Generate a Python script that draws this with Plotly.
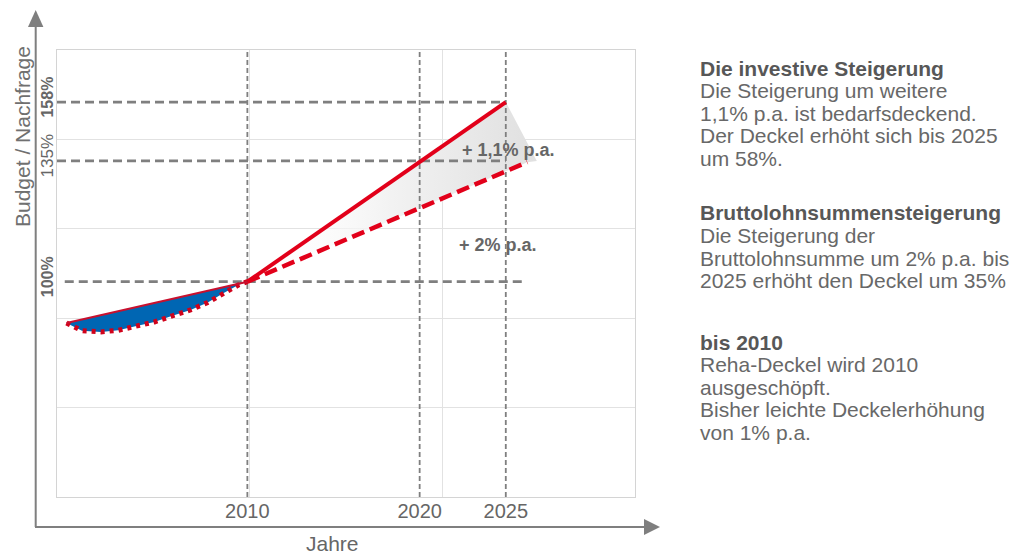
import plotly.graph_objects as go

# ---------------- data ----------------
# pre-2010 period: straight cap line (1% p.a.) vs. demand curve (dotted)
cap_years = [1999.5, 2010]
cap_values = [86.7, 100]
demand_years = [1999.5, 2000.4, 2001.5, 2002.5, 2003.5, 2004.6, 2005.6, 2006.7, 2007.7, 2008.6, 2009.5, 2010]
demand_values = [86.7, 84.2, 83.8, 84.3, 85.6, 87.0, 88.9, 90.9, 93.3, 96.3, 99.0, 100]

# projections from 2010
invest_years = [2010, 2025]
invest_values = [100, 158]
wage_years = [2010, 2026.25]
wage_values = [100, 138.6]
band_corner = (2026.8, 139.0)

# reference levels / marked years
level_values = [100, 139, 158]
level_labels = ["<b>100%</b>", "135%", "<b>158%</b>"]
level_label_sizes = [16, 17, 16]
level_x_start = [1999.4, 1998.95, 1998.95]
level_x_end = [2026.1, 2025, 2025]
marked_years = [2010, 2020, 2025]
marked_labels = ["2010", "2020", "2025"]

# annotations in the plot
ann_texts = ["<b>+ 1,1% p.a.</b>", "<b>+ 2% p.a.</b>"]
ann_x = [2025.15, 2024.55]
ann_y = [142.6, 111.8]

# side text
side_lines = [
    ("<b>Die investive Steigerung</b>", 68),
    ("Die Steigerung um weitere", 90.5),
    ("1,1% p.a. ist bedarfsdeckend.", 113),
    ("Der Deckel erhöht sich bis 2025", 135.5),
    ("um 58%.", 158),
    ("<b>Bruttolohnsummensteigerung</b>", 213),
    ("Die Steigerung der", 235.5),
    ("Bruttolohnsumme um 2% p.a. bis", 258),
    ("2025 erhöht den Deckel um 35%", 280.5),
    ("<b>bis 2010</b>", 342),
    ("Reha-Deckel wird 2010", 364.5),
    ("ausgeschöpft.", 387),
    ("Bisher leichte Deckelerhöhung", 409.5),
    ("von 1% p.a.", 432),
]

X_RANGE = [1998.95, 2032.5]
Y_RANGE = [30.5, 174.8]

# ---------------- layout helpers (reference pixel -> paper) ----------------
OFF = 8                      # page body margin
FW, FH = 1020 - OFF, 554 - OFF
L, R, T, B = 57, 635, 50, 497   # plot box in reference pixels
W, H = R - L, B - T
def px(x):
    return (x - L) / W
def py(y):
    return (B - y) / H

FONT = "Liberation Sans, Arial, sans-serif"
GREY = "#7f7f7f"
RED = "#e2001a"

fig = go.Figure()

# grey gradient band between the two projections
fig.add_trace(go.Scatter(
    x=[invest_years[0], invest_years[1], band_corner[0], wage_years[1], wage_years[0]],
    y=[invest_values[0], invest_values[1], band_corner[1], wage_values[1], wage_values[0]],
    mode="lines", fill="toself", line=dict(width=0),
    fillcolor="rgba(230,230,230,0.8)",
    fillgradient=dict(type="horizontal",
                      colorscale=[[0, "rgba(255,255,255,0)"], [0.5, "rgba(242,242,242,1)"], [1, "rgba(224,224,224,1)"]]),
    hoverinfo="skip", showlegend=False))

# blue area between cap line and demand curve
fig.add_trace(go.Scatter(
    x=demand_years + cap_years[::-1],
    y=demand_values + cap_values[::-1],
    mode="lines", fill="toself", fillcolor="#0066b3", line=dict(width=0),
    hoverinfo="skip", showlegend=False))

# grey dashed reference lines (vertical)
for yr in marked_years:
    fig.add_trace(go.Scatter(x=[yr, yr], y=Y_RANGE, mode="lines",
                             line=dict(color=GREY, width=1.8, dash="5px,3px"),
                             hoverinfo="skip", showlegend=False))
# grey dashed reference lines (horizontal)
for lv, xs, xe in zip(level_values, level_x_start, level_x_end):
    fig.add_trace(go.Scatter(x=[xs, xe], y=[lv, lv], mode="lines",
                             line=dict(color=GREY, width=2.8, dash="9px,5px"),
                             hoverinfo="skip", showlegend=False))

# red projection lines
fig.add_trace(go.Scatter(x=wage_years, y=wage_values, mode="lines",
                         line=dict(color=RED, width=4.5, dash="13px,6px"),
                         hoverinfo="skip", showlegend=False))
fig.add_trace(go.Scatter(x=invest_years, y=invest_values, mode="lines",
                         line=dict(color=RED, width=4),
                         hoverinfo="skip", showlegend=False))

# pre-2010 lines
fig.add_trace(go.Scatter(x=demand_years, y=demand_values, mode="lines",
                         line=dict(color="#d0021b", width=5, dash="4px,5px"),
                         hoverinfo="skip", showlegend=False))
fig.add_trace(go.Scatter(x=cap_years, y=cap_values, mode="lines",
                         line=dict(color="#c8102e", width=2),
                         hoverinfo="skip", showlegend=False))

annotations = []
for t, ax_, ay_ in zip(ann_texts, ann_x, ann_y):
    annotations.append(dict(x=ax_, y=ay_, xref="x", yref="y", text=t, showarrow=False,
                            font=dict(family=FONT, size=18, color="#666666")))

# level labels (rotated) left of the plot box
for lv, lab, sz in zip(level_values, level_labels, level_label_sizes):
    annotations.append(dict(x=px(47.5), y=lv, xref="paper", yref="y", yshift=5,
                            text=lab, textangle=-90, showarrow=False,
                            xanchor="center", yanchor="middle",
                            font=dict(family=FONT, size=sz, color="#666666")))

for txt, yy in side_lines:
    col = "#575757" if txt.startswith("<b>") else "#686868"
    annotations.append(dict(x=px(698), y=py(yy), xref="paper", yref="paper", text=txt,
                            showarrow=False, xanchor="left", yanchor="middle",
                            font=dict(family=FONT, size=21, color=col)))

annotations.append(dict(x=px(22), y=py(137), xref="paper", yref="paper",
                        text="Budget / Nachfrage", textangle=-90, showarrow=False,
                        xanchor="center", yanchor="middle",
                        font=dict(family=FONT, size=21, color="#707070")))
annotations.append(dict(x=px(332), y=py(543), xref="paper", yref="paper",
                        text="Jahre", showarrow=False, xanchor="center", yanchor="middle",
                        font=dict(family=FONT, size=21, color="#666666")))

shapes = [
    # y axis arrow
    dict(type="line", xref="paper", yref="paper", x0=px(35.7), x1=px(35.7), y0=py(527), y1=py(26),
         line=dict(color=GREY, width=2)),
    dict(type="path", xref="paper", yref="paper",
         path=f"M {px(35.7)},{py(10)} L {px(28)},{py(27)} L {px(43.4)},{py(27)} Z",
         fillcolor=GREY, line=dict(width=0)),
    # x axis arrow
    dict(type="line", xref="paper", yref="paper", x0=px(35), x1=px(645), y0=py(527), y1=py(527),
         line=dict(color=GREY, width=2)),
    dict(type="path", xref="paper", yref="paper",
         path=f"M {px(660)},{py(527)} L {px(644)},{py(519)} L {px(644)},{py(535)} Z",
         fillcolor=GREY, line=dict(width=0)),
]

fig.update_layout(
    width=FW, height=FH,
    margin=dict(l=L - OFF, r=1020 - R, t=T - OFF, b=554 - B, pad=0),
    paper_bgcolor="white", plot_bgcolor="white",
    showlegend=False,
    annotations=annotations,
    shapes=shapes,
    xaxis=dict(range=X_RANGE, tickmode="array", tickvals=marked_years, ticktext=marked_labels,
               tickfont=dict(family=FONT, size=20, color="#666666"),
               showgrid=False, zeroline=False, ticks="", ticklabelstandoff=-4,
               showline=True, mirror=True, linecolor="#d4d4d4", linewidth=1,
               minor=dict(tick0=X_RANGE[0], dtick=(X_RANGE[1] - X_RANGE[0]) / 3,
                          showgrid=True, gridcolor="#e2e2e2", gridwidth=1, ticks="")),
    yaxis=dict(range=Y_RANGE, showticklabels=False,
               showgrid=False, zeroline=False, ticks="",
               showline=True, mirror=True, linecolor="#d4d4d4", linewidth=1,
               minor=dict(tick0=Y_RANGE[0], dtick=(Y_RANGE[1] - Y_RANGE[0]) / 5,
                          showgrid=True, gridcolor="#e2e2e2", gridwidth=1, ticks="")),
)

fig.write_html("out.html")
